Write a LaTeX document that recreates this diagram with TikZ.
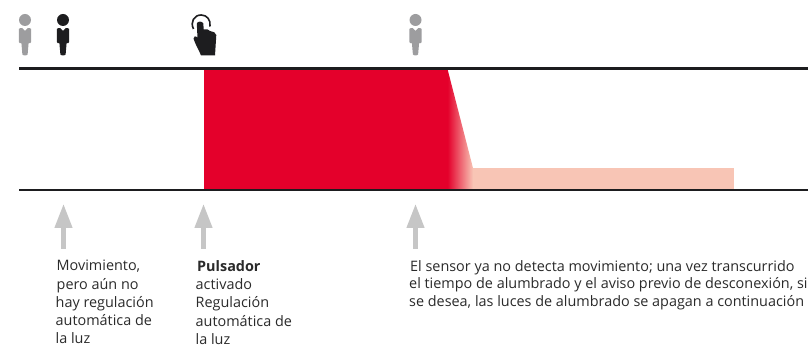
\documentclass[tikz,border=0pt]{standalone}
\usepackage{fontspec}
\setmainfont{Open Sans}
\usetikzlibrary{arrows.meta}
\definecolor{rojo}{HTML}{E4002B}
\definecolor{salmon}{HTML}{F8C5B5}
\definecolor{negro}{HTML}{1D1D1F}
\definecolor{gris}{HTML}{9D9D9F}
\definecolor{flecha}{HTML}{C6C6C6}
\definecolor{texto}{HTML}{2A2A2A}
\tikzset{
  x=1pt,y=-1pt,
  axisline/.style={line width=2.6pt,draw=negro},
  uparrow/.style={line width=4.4pt,draw=flecha,-{Triangle[width=17pt,length=24pt]}},
  label/.style={inner sep=0pt,anchor=north west,align=left,text=texto,font=\fontsize{14.4}{18.3}\selectfont},
  person/.pic={
    \fill (0,-8) circle (6);
    \fill (-6.2,1) -- (-6.2,14) .. controls (-6.2,15) and (-4.5,15.5) .. (-3.6,15) -- (-2.6,26.5)
      .. controls (-2,27.7) and (2,27.7) .. (2.6,26.5) -- (3.6,15)
      .. controls (4.5,15.5) and (6.2,15) .. (6.2,14) -- (6.2,1)
      .. controls (6.2,0.3) and (4,0) .. (2.8,0) -- (0,3) -- (-2.8,0) .. controls (-4,0) and (-6.2,0.3) .. (-6.2,1) -- cycle;
  }
}
\begin{document}
\begin{tikzpicture}
\useasboundingbox (0,0) rectangle (808,347);
\clip (0,0) rectangle (808,347);
% bars
\fill[salmon] (473,168) rectangle (734,190);
\shade[left color=rojo,right color=salmon,shading angle=90] (447.5,69) -- (473,168) -- (473,190) -- (447.5,190) -- cycle;
\fill[rojo] (203.5,69) rectangle (447.5,190);
% axes
\coordinate (t0) at (19,68.5); \coordinate (t1) at (808,68.5);
\coordinate (b0) at (19,190); \coordinate (b1) at (808,190);
\draw[axisline] (t0) -- (t1);
\draw[axisline] (b0) -- (b1);
% icons
\pic[gris] at (25,28) {person};
\pic[negro] at (63,28) {person};
\pic[gris] at (415.5,28) {person};
% hand
\draw[negro,line width=1.6pt] (193.5,29) .. controls (190,22) and (194,15) .. (201.2,15) .. controls (207,15) and (211,20) .. (210,26.5);
\fill[negro] (196.8,23.5) .. controls (197.3,21) and (202.7,21) .. (203.3,23.5) -- (203.7,29.5)
  .. controls (206,28.5) and (209,29.5) .. (210,31) .. controls (213,31.5) and (216,32.5) .. (216.3,35)
  -- (215,55.5) -- (201,55.5) .. controls (199,50) and (195,44) .. (193.5,38.5)
  .. controls (193.2,36) and (196,35.5) .. (197.5,38) -- cycle;
% arrows
\coordinate (a1s) at (63.5,249); \coordinate (a1e) at (63.5,204);
\coordinate (a2s) at (203.5,249); \coordinate (a2e) at (203.5,204);
\coordinate (a3s) at (415.5,249); \coordinate (a3e) at (415.5,204);
\draw[uparrow] (a1s) -- (a1e);
\draw[uparrow] (a2s) -- (a2e);
\draw[uparrow] (a3s) -- (a3e);
% labels
\node[label] (l1) at (55.5,260) {\hspace{1pt}Movimiento,\\\hspace{1pt}pero aún no\\hay regulación\\automática de\\la luz};
\node[label] (l2) at (195.5,260) {\hspace{1.5pt}\textbf{Pulsador}\\activado\\Regulación\\automática de\\la luz};
\node[label,font=\fontsize{14.4}{17.8}\selectfont] (l3) at (409,260) {\hspace{1pt}El sensor ya no detecta movimiento; una vez transcurrido\\el tiempo de alumbrado y el aviso previo de desconexión, si\\se desea, las luces de alumbrado se apagan a continuación};
\end{tikzpicture}
\end{document}
